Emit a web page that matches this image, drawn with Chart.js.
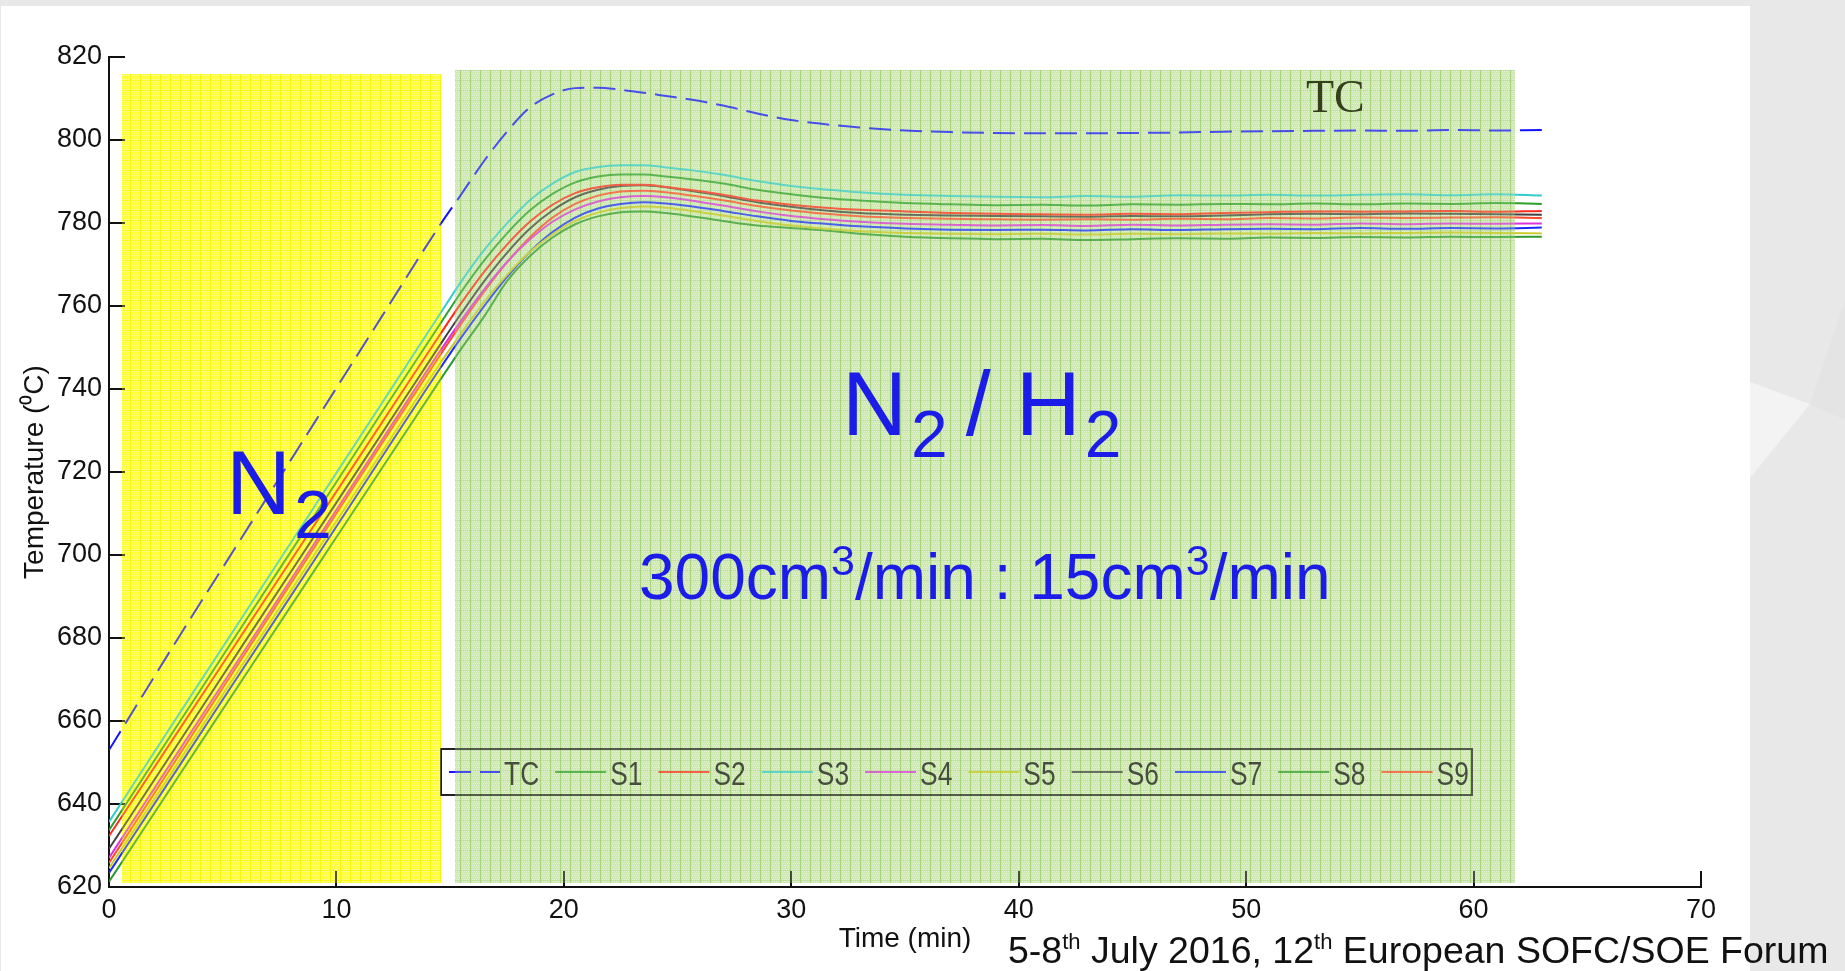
<!DOCTYPE html>
<html>
<head>
<meta charset="utf-8">
<script src="https://cdn.jsdelivr.net/npm/chart.js@4.4.1/dist/chart.umd.min.js"></script>
<style>
html,body{margin:0;padding:0;width:1845px;height:971px;overflow:hidden;background:#e8e8e8;}
#panel{position:absolute;left:1px;top:6px;width:1749px;height:965px;background:#ffffff;}
#shape{position:absolute;left:1750px;top:0;width:95px;height:971px;}
#c{position:absolute;left:0;top:0;}
.txt{position:absolute;white-space:pre;line-height:1;font-family:"Liberation Sans",Arial,Helvetica,sans-serif;}
.blue{color:#1c1ce8;}
</style>
</head>
<body>
<div id="panel"></div>
<svg id="shape" width="95" height="971"><polygon points="0,382 60,404 0,478" fill="#f3f3f3"/><polygon points="60,404 95,300 95,420" fill="#e4e4e4"/></svg>
<canvas id="c" width="1845" height="971"></canvas>

<div class="txt blue" style="left:226px;top:438px;font-size:90px;">N<span style="font-size:68px;position:relative;top:24px;margin-left:3px;">2</span></div>
<div class="txt blue" style="left:842px;top:359px;font-size:90px;">N<span style="font-size:66px;position:relative;top:22px;margin-left:4px;">2</span><span style="margin-left:-7px;"> / H</span><span style="font-size:66px;position:relative;top:22px;margin-left:4px;">2</span></div>
<div class="txt blue" style="left:639px;top:545px;font-size:64px;">300cm<span style="font-size:43px;position:relative;top:-24px;">3</span>/min : 15cm<span style="font-size:43px;position:relative;top:-24px;">3</span>/min</div>
<div class="txt" style="left:1306px;top:74px;font-size:46px;font-family:'Liberation Serif','Times New Roman',serif;color:#34401c;">TC</div>
<div class="txt" style="left:1008px;top:932px;font-size:37.5px;color:#111;">5-8<span style="font-size:22px;position:relative;top:-14px;">th</span> July 2016, 12<span style="font-size:22px;position:relative;top:-14px;">th</span> European SOFC/SOE Forum</div>

<script>
// ---------------- data ----------------
const times = [0, 3, 6, 9, 12, 14.6, 15.5, 16.5, 17.5, 18.5, 19.5, 20.5, 21.5, 22.5, 23.5, 24.5, 25.5, 27, 28.5, 30, 31.5, 33, 35, 37, 39, 41, 43, 45, 47, 49, 51, 53, 55, 57, 59, 61, 63];

const tcValues = [653, 679.6, 705.6, 731.6, 757.5, 779.9, 787, 795, 802, 807.8, 811, 812.5, 812.6, 812.1, 811.4, 810.6, 809.8, 808.3, 806.4, 804.8, 803.8, 803, 802.3, 801.9, 801.7, 801.6, 801.6, 801.7, 801.8, 802, 802.1, 802.2, 802.3, 802.2, 802.4, 802.3, 802.4];
const s1Values = [633.7, 658.9, 684.1, 709.2, 734.4, 756, 763.5, 771, 777.5, 783, 787, 789.8, 791.2, 791.7, 791.7, 791.2, 790.6, 789.5, 788, 786.9, 786, 785.4, 784.8, 784.5, 784.3, 784.4, 784.2, 784.5, 784.4, 784.6, 784.5, 784.7, 784.5, 784.7, 784.6, 784.8, 784.6];
const s2Values = [632.3, 657.2, 682.1, 707, 731.9, 753.5, 760.8, 768.3, 774.8, 780.3, 784.4, 787.2, 788.6, 789.2, 789.2, 788.7, 788, 786.8, 785.4, 784.4, 783.7, 783.2, 782.8, 782.4, 782.2, 782.1, 782, 782.2, 782.1, 782.4, 782.6, 782.8, 782.7, 782.8, 782.9, 782.7, 782.9];
const s3Values = [635.7, 661, 686.2, 711.4, 736.6, 758.5, 766, 773.5, 779.9, 785.5, 789.5, 792.3, 793.5, 793.9, 793.9, 793.4, 792.8, 791.6, 790.1, 788.9, 788.1, 787.4, 786.8, 786.5, 786.3, 786.2, 786.5, 786.3, 786.7, 786.6, 786.8, 786.6, 786.8, 786.9, 786.7, 786.9, 786.6];
const s4Values = [627, 652.2, 677.3, 702.5, 727.7, 749.5, 756.6, 764, 770.6, 776, 780.3, 783.3, 785.2, 786.2, 786.5, 786.2, 785.5, 784.2, 782.8, 781.7, 780.9, 780.3, 779.8, 779.6, 779.4, 779.5, 779.3, 779.6, 779.4, 779.6, 779.7, 779.6, 779.9, 779.7, 779.9, 779.8, 779.9];
const s5Values = [624.5, 649.6, 674.7, 699.8, 724.8, 746.5, 753.5, 761, 767.5, 773, 777.3, 780.5, 782.5, 783.6, 784, 783.7, 783, 781.8, 780.5, 779.4, 778.6, 778, 777.6, 777.4, 777.3, 777.4, 777.2, 777.4, 777.3, 777.5, 777.4, 777.6, 777.5, 777.6, 777.7, 777.6, 777.5];
const s6Values = [629.2, 654.2, 679.3, 704.3, 729.3, 751, 758.3, 766, 772.8, 778.6, 783, 786.2, 788, 788.9, 789.1, 788.6, 787.8, 786.5, 785, 783.9, 783, 782.4, 782, 781.8, 781.7, 781.6, 781.5, 781.7, 781.6, 781.8, 782.1, 782.2, 782.1, 782.3, 782.2, 782.1, 782];
const s7Values = [623.4, 648.4, 673.5, 698.5, 723.6, 745.3, 752.5, 760, 767, 773, 777.8, 781.3, 783.5, 784.6, 785, 784.7, 784.1, 782.9, 781.6, 780.5, 779.8, 779.2, 778.7, 778.4, 778.3, 778.4, 778.2, 778.5, 778.3, 778.5, 778.6, 778.5, 778.8, 778.6, 778.8, 778.7, 778.9];
const s8Values = [621.3, 646.2, 671.1, 696, 720.9, 742.5, 749.8, 757.5, 766, 772, 776.5, 779.7, 781.6, 782.6, 782.8, 782.4, 781.7, 780.5, 779.4, 778.8, 778.2, 777.4, 776.7, 776.3, 776.1, 776.2, 775.9, 776.1, 776.3, 776.2, 776.5, 776.4, 776.6, 776.5, 776.7, 776.6, 776.7];
const s9Values = [625.8, 651.1, 676.4, 701.6, 726.9, 748.5, 755.8, 763.5, 770.5, 776.5, 781.3, 784.6, 786.6, 787.6, 787.8, 787.4, 786.7, 785.5, 784.1, 783, 782.2, 781.6, 781.2, 781, 780.9, 780.8, 780.9, 780.8, 781, 780.9, 781.2, 781.1, 781.3, 781.2, 781.3, 781.4, 781.2];

const seriesLabels = ['TC', 'S1', 'S2', 'S3', 'S4', 'S5', 'S6', 'S7', 'S8', 'S9'];
const xTickStep = 10, xMin = 0, xMax = 70;
const yTickStep = 20, yMin = 620, yMax = 820;

// gas phases (time range in min, temperature range in degC)
const phaseN2   = [0.57, 14.6, 621, 815.9];
const phaseN2H2 = [15.2, 61.8, 621, 816.9];

// ---------------- styles ----------------
const seriesValues = [tcValues, s1Values, s2Values, s3Values, s4Values, s5Values, s6Values, s7Values, s8Values, s9Values];
const seriesColors = ['#1212ff', '#2ca02c', '#ff2a1a', '#33cccc', '#dd33dd', '#c8c81e', '#404040', '#1a2aff', '#2e9a2e', '#ff4a2a'];
const FONT = '"Liberation Sans", Arial, Helvetica, sans-serif';
Chart.defaults.font.family = FONT;

const datasets = seriesLabels.map((lab, i) => ({
  label: lab,
  data: times.map((t, k) => ({x: t, y: seriesValues[i][k]})),
  borderColor: seriesColors[i],
  backgroundColor: seriesColors[i],
  borderWidth: 2,
  borderDash: i === 0 ? [22, 9] : [],
  pointRadius: 0,
  cubicInterpolationMode: 'monotone',
  fill: false
}));

function makePattern(ctx, base, dot, hline, vline) {
  const c = document.createElement('canvas');
  c.width = 10; c.height = 10;
  const g = c.getContext('2d');
  g.fillStyle = base; g.fillRect(0, 0, 10, 10);
  g.fillStyle = dot;
  for (let y = 1; y < 10; y += 2) {
    for (let x = (y % 4 === 1 ? 2 : 3); x < 10; x += 2) g.fillRect(x, y, 1, 1);
  }
  g.fillStyle = hline; g.fillRect(0, 0, 10, 1);
  g.fillStyle = vline; g.fillRect(0, 0, 1, 10);
  return ctx.createPattern(c, 'repeat');
}

function phaseRect(chart, p) {
  const xs = chart.scales.x, ys = chart.scales.y;
  const x0 = xs.getPixelForValue(p[0]), x1 = xs.getPixelForValue(p[1]);
  const y0 = ys.getPixelForValue(p[3]), y1 = ys.getPixelForValue(p[2]);
  return [Math.round(x0), Math.round(y0), Math.round(x1 - x0), Math.round(y1 - y0)];
}

const decor = {
  id: 'decor',
  beforeDatasetsDraw(chart) {
    const ctx = chart.ctx;
    if (!chart.$pat) {
      chart.$pat = {
        y: makePattern(ctx, '#ffff3c', '#ffff88', '#f8f81c', '#f6f614'),
        g: makePattern(ctx, '#cfe8b3', '#e6f3d6', '#bfe1a0', '#a8d57a')
      };
    }
    ctx.save();
    let r = phaseRect(chart, phaseN2);
    ctx.fillStyle = chart.$pat.y; ctx.fillRect(r[0], r[1], r[2], r[3]);
    r = phaseRect(chart, phaseN2H2);
    ctx.fillStyle = chart.$pat.g; ctx.fillRect(r[0], r[1], r[2], r[3]);
    // inward tick marks
    ctx.strokeStyle = '#111'; ctx.lineWidth = 2;
    const xs = chart.scales.x, ys = chart.scales.y;
    const ca = chart.chartArea;
    ctx.beginPath();
    xs.ticks.forEach(t => { const px = Math.round(xs.getPixelForValue(t.value)); ctx.moveTo(px, ca.bottom); ctx.lineTo(px, ca.bottom - 16); });
    ys.ticks.forEach(t => { const py = Math.round(ys.getPixelForValue(t.value)); ctx.moveTo(ca.left, py); ctx.lineTo(ca.left + 16, py); });
    ctx.stroke();
    ctx.restore();
  },
  afterDatasetsDraw(chart) {
    const ctx = chart.ctx;
    ctx.save();
    // legend
    ctx.strokeStyle = '#222'; ctx.lineWidth = 2;
    ctx.strokeRect(441, 749, 1031, 46);
    ctx.font = '33px ' + FONT;
    ctx.textBaseline = 'alphabetic';
    let x = 449;
    const cy = 772;
    chart.data.datasets.forEach(ds => {
      ctx.setLineDash(ds.borderDash || []);
      ctx.strokeStyle = ds.borderColor; ctx.lineWidth = 2.2;
      ctx.beginPath(); ctx.moveTo(x, cy); ctx.lineTo(x + 51, cy); ctx.stroke();
      ctx.setLineDash([]);
      const tx = x + 55;
      const w = ctx.measureText(ds.label).width * 0.8;
      ctx.save(); ctx.translate(tx, 785); ctx.scale(0.8, 1);
      ctx.fillStyle = '#111'; ctx.fillText(ds.label, 0, 0);
      ctx.restore();
      x = tx + w + 16;
    });
    // translucent phase overlays (mute what lies under them)
    ctx.globalAlpha = 0.28;
    let r = phaseRect(chart, phaseN2);
    ctx.fillStyle = chart.$pat.y; ctx.fillRect(r[0], r[1], r[2], r[3]);
    r = phaseRect(chart, phaseN2H2);
    ctx.fillStyle = chart.$pat.g; ctx.fillRect(r[0], r[1], r[2], r[3]);
    ctx.restore();
  }
};

const chart = new Chart(document.getElementById('c'), {
  type: 'line',
  data: {datasets},
  plugins: [decor],
  options: {
    responsive: false,
    animation: false,
    devicePixelRatio: 1,
    layout: {padding: {left: 0, top: 57, right: 144, bottom: 0}},
    plugins: {legend: {display: false}, tooltip: {enabled: false}},
    scales: {
      x: {
        type: 'linear', min: xMin, max: xMax,
        ticks: {stepSize: xTickStep, padding: 7, color: '#111', font: {size: 27}, maxRotation: 0},
        grid: {display: false, drawTicks: false},
        border: {display: true, color: '#111', width: 2},
        title: {display: true, text: 'Time (min)', color: '#111', font: {size: 28}, padding: {top: 0, bottom: 15}},
        afterFit(s) { s.height = 84; }
      },
      y: {
        type: 'linear', min: yMin, max: yMax,
        ticks: {stepSize: yTickStep, padding: 7, color: '#111', font: {size: 27}},
        grid: {display: false, drawTicks: false},
        border: {display: true, color: '#111', width: 2},
        title: {display: true, text: 'Temperature (\u2070C)', color: '#111', font: {size: 28}, padding: {top: 18, bottom: 0}},
        afterFit(s) { s.width = 109; }
      }
    }
  }
});

// make sure the plot area lands where it should
(function fix() {
  const ca = chart.chartArea;
  const p = chart.options.layout.padding;
  const dl = 109 - ca.left, dt = 57 - ca.top, dr = ca.right - 1701, db = ca.bottom - 887;
  if (Math.abs(dl) + Math.abs(dt) + Math.abs(dr) + Math.abs(db) > 0.5) {
    p.left += dl; p.top += dt; p.right += dr; p.bottom += db;
    chart.update();
  }
})();
</script>
</body>
</html>
